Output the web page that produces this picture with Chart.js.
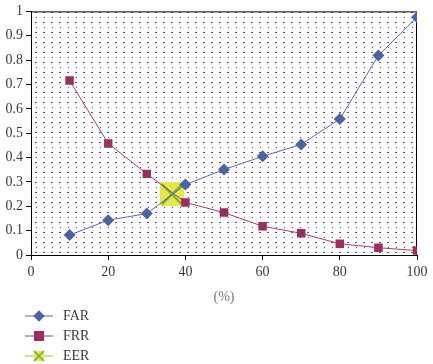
<!DOCTYPE html>
<html>
<head>
<meta charset="utf-8">
<script src="https://cdn.jsdelivr.net/npm/chart.js@4"></script>
<style>
  html, body { margin: 0; padding: 0; background: #fff; }
  #wrap { position: relative; width: 433px; height: 364px; }
  #legend { position: absolute; left: 25px; top: 306px; font: 14px "Liberation Serif", serif; color: #3a3a3a; }
  #legend div { height: 20px; display: flex; align-items: center; }
  #legend svg { margin-right: 10px; }
</style>
</head>
<body>
<div id="wrap">
  <canvas id="chart" width="433" height="364"></canvas>
  <div id="legend">
    <div><svg width="28" height="14"><line x1="0" y1="7" x2="28" y2="7" stroke="#5a6aaa"/><rect x="10" y="3" width="8" height="8" fill="#4a63a8" transform="rotate(45 14 7)"/></svg>FAR</div>
    <div><svg width="28" height="14"><line x1="0" y1="7" x2="28" y2="7" stroke="#a04070"/><rect x="9" y="2" width="10" height="10" fill="#9b2d5f"/></svg>FRR</div>
    <div><svg width="28" height="14"><line x1="0" y1="7" x2="28" y2="7" stroke="#8cc050"/><rect x="9" y="2" width="10" height="10" fill="#e6e84a"/><path d="M9 2L19 12M19 2L9 12" stroke="#6aae3a" stroke-width="1.5"/></svg>EER</div>
  </div>
</div>
<script>
  const thresholds = [10, 20, 30, 40, 50, 60, 70, 80, 90, 100];
  const farValues = [0.082, 0.143, 0.170, 0.289, 0.351, 0.405, 0.454, 0.558, 0.819, 0.976];
  const frrValues = [0.716, 0.458, 0.333, 0.216, 0.174, 0.118, 0.089, 0.046, 0.030, 0.018];
  const eerPoint = [36.5, 0.249];

  // EER marker: yellow square with a green cross
  function makeEerMarker() {
    const c = document.createElement("canvas");
    c.width = 24; c.height = 24;
    const g = c.getContext("2d");
    g.fillStyle = "#e6e84a";
    g.fillRect(0, 0, 24, 24);
    g.strokeStyle = "#6aae3a";
    g.lineWidth = 2;
    g.beginPath();
    g.moveTo(2, 2); g.lineTo(22, 22);
    g.moveTo(22, 2); g.lineTo(2, 22);
    g.stroke();
    return c;
  }

  // dotted background fill
  function makeDots() {
    const c = document.createElement("canvas");
    c.width = 8; c.height = 10;
    const g = c.getContext("2d");
    g.fillStyle = "rgba(30,30,30,0.75)";
    g.fillRect(3, 2, 2, 1);
    g.fillRect(4, 7, 1, 1);
    return c;
  }

  const plotFrame = {
    id: "plotFrame",
    beforeDatasetsDraw(chart) {
      const { ctx, chartArea: a } = chart;
      ctx.save();
      ctx.fillStyle = ctx.createPattern(makeDots(), "repeat");
      ctx.fillRect(a.left, a.top, a.right - a.left, a.bottom - a.top);
      ctx.strokeStyle = "#000";
      ctx.lineWidth = 1;
      ctx.strokeRect(a.left + 0.5, a.top + 0.5, a.right - a.left - 1, a.bottom - a.top);
      ctx.restore();
    }
  };

  const tickFont = { family: "Liberation Serif", size: 14 };

  new Chart(document.getElementById("chart"), {
    type: "line",
    data: {
      datasets: [
        {
          label: "FAR",
          data: thresholds.map((x, i) => ({ x, y: farValues[i] })),
          borderColor: "#5a6aaa",
          backgroundColor: "#4a63a8",
          borderWidth: 1,
          pointStyle: "rectRot",
          pointRadius: 6,
          pointBorderWidth: 0
        },
        {
          label: "FRR",
          data: thresholds.map((x, i) => ({ x, y: frrValues[i] })),
          borderColor: "#a04070",
          backgroundColor: "#9b2d5f",
          borderWidth: 1,
          pointStyle: "rect",
          pointRadius: 6,
          pointBorderWidth: 0
        },
        {
          label: "EER",
          data: [{ x: eerPoint[0], y: eerPoint[1] }],
          pointStyle: makeEerMarker(),
          showLine: false
        }
      ]
    },
    options: {
      responsive: false,
      animation: false,
      layout: { padding: { top: 6, right: 16, bottom: 54, left: 0 } },
      plugins: { legend: { display: false }, tooltip: { enabled: false } },
      scales: {
        x: {
          type: "linear",
          min: 0, max: 100,
          ticks: { stepSize: 20, color: "#3a3a3a", font: tickFont, padding: 4 },
          grid: { drawOnChartArea: false, color: "#000", tickLength: 5 },
          border: { color: "#000" },
          title: { display: true, text: "(%)", color: "#777", font: tickFont, padding: { top: 6 } },
          afterFit(s) { s.height = 55; }
        },
        y: {
          min: 0, max: 1,
          ticks: {
            stepSize: 0.1, color: "#3a3a3a", font: tickFont, padding: 3,
            callback: (v) => String(Math.round(v * 10) / 10)
          },
          grid: { drawOnChartArea: false, color: "#000", tickLength: 5 },
          border: { color: "#000" },
          afterFit(s) { s.width = 31; }
        }
      }
    },
    plugins: [plotFrame]
  });
</script>
</body>
</html>
